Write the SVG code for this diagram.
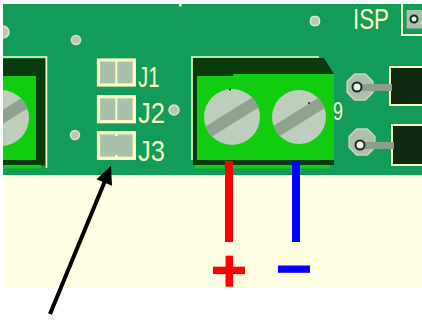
<svg xmlns="http://www.w3.org/2000/svg" width="422" height="323" viewBox="0 0 422 323">
<style>
.board{fill:#139b59}
.dark{fill:#0c3a0f}
.bright{fill:#11cc11}
.screw{fill:#bdcebc}
.slot{fill:#8fa28e}
.cream{fill:none;stroke:#fbfbc4}
.pad{fill:#a9c0ab}
.lbl{font-family:"Liberation Sans",Arial,sans-serif;fill:#fbfbc4}
.via{fill:#b6c7b5;stroke:#dfe6cc;stroke-width:1.5}
.oct{fill:#aebfad;stroke:#c9d3bd;stroke-width:1.5}
.hole{fill:#eef0ea;stroke:#1a2a1a;stroke-width:2}
.wire{fill:#8e9e8d}
.comp{fill:#0e2a10;stroke:#fbfbc4;stroke-width:2}
</style>
<defs>
<clipPath id="brd"><rect x="3" y="4" width="419" height="171"/></clipPath>
<clipPath id="s0"><circle cx="1" cy="118" r="28"/></clipPath>
<clipPath id="s1"><circle cx="232" cy="117" r="28"/></clipPath>
<clipPath id="s2"><circle cx="299" cy="117" r="27"/></clipPath>
</defs>
<rect width="422" height="323" fill="#ffffff"/>
<rect x="3" y="175" width="419" height="112" fill="#ffffe4"/>
<g id="board" clip-path="url(#brd)">
<rect class="board" x="3" y="4" width="419" height="171"/>
<rect x="179" y="3" width="2.5" height="3.5" fill="#fbfbc4"/>
<circle class="via" cx="3" cy="32" r="6"/>
<circle class="via" cx="76" cy="40" r="4.5"/>
<circle class="via" cx="75" cy="135" r="4.5"/>
<circle class="via" cx="174" cy="110" r="5"/>
<rect class="via" x="310.5" y="16.5" width="9" height="9" rx="3.5"/>
<g id="terminal-left">
<polyline class="cream" stroke-width="1.5" points="3,57 46.5,57 46.5,168"/>
<rect class="dark" x="3" y="58.5" width="42" height="107"/>
<rect class="bright" x="3" y="76" width="33" height="84"/>
<rect class="bright" x="3" y="165" width="38" height="3.5"/>
<circle class="screw" cx="1" cy="118" r="28"/>
<g clip-path="url(#s0)"><rect class="slot" x="-30" y="112" width="62" height="12" transform="rotate(-32 1 118)"/></g>
</g>
<g id="terminal-right">
<polyline class="cream" stroke-width="1.5" points="192,160 192,57 319,57"/>
<path class="dark" d="M193,58 H324 L334,74 V165 H193 Z"/>
<path class="bright" d="M197,76 H233 V74 H334 V160 H197 Z"/>
<rect class="bright" x="195" y="165" width="135" height="3.5"/>
<circle class="screw" cx="232" cy="117" r="28"/>
<g clip-path="url(#s1)"><rect class="slot" x="200" y="111" width="64" height="12" transform="rotate(-32 232 117)"/></g>
<circle class="screw" cx="299" cy="117" r="27"/>
<g clip-path="url(#s2)"><rect class="slot" x="267" y="111" width="64" height="12" transform="rotate(-32 299 117)"/></g>
<circle cx="230" cy="89.5" r="1" fill="#1a2a1a"/>
<circle cx="309" cy="103" r="1" fill="#1a2a1a"/>
<text class="lbl" x="333" y="120" font-size="25" textLength="10" lengthAdjust="spacingAndGlyphs">9</text>
</g>
<g id="J1">
<rect class="pad" x="98.5" y="60" width="35.8" height="25"/>
<rect class="cream" stroke-width="3.3" x="98.5" y="60" width="35.8" height="25"/>
<line class="cream" stroke-width="2" x1="116.3" y1="60" x2="116.3" y2="85"/>
<text class="lbl" x="138" y="87" font-size="30" textLength="21.5" lengthAdjust="spacingAndGlyphs">J1</text>
</g>
<g id="J2">
<rect class="pad" x="98.5" y="96.7" width="35.8" height="25"/>
<rect class="cream" stroke-width="3.3" x="98.5" y="96.7" width="35.8" height="25"/>
<line class="cream" stroke-width="2" x1="116.3" y1="96.7" x2="116.3" y2="121.7"/>
<text class="lbl" x="138" y="123" font-size="30" textLength="27" lengthAdjust="spacingAndGlyphs">J2</text>
</g>
<g id="J3">
<rect class="pad" x="98.5" y="132.7" width="35.8" height="25.6"/>
<rect class="cream" stroke-width="3.3" x="98.5" y="132.7" width="35.8" height="25.6"/>
<rect x="115" y="133" width="2.6" height="3" fill="#fbfbc4"/>
<rect x="115" y="155" width="2.6" height="3" fill="#fbfbc4"/>
<text class="lbl" x="138" y="161" font-size="30" textLength="27" lengthAdjust="spacingAndGlyphs">J3</text>
</g>
<g id="ISP">
<text class="lbl" x="353" y="28.5" font-size="29.5" textLength="36" lengthAdjust="spacingAndGlyphs">ISP</text>
<rect class="cream" stroke-width="2" x="402" y="-5" width="30" height="40"/>
<rect class="pad" x="406.5" y="10" width="20" height="18.5"/>
<circle class="hole" cx="414" cy="19" r="3.5"/>
</g>
<g id="comp1">
<rect class="comp" x="390" y="67" width="40" height="38"/>
<polygon class="oct" points="372.9,92.4 365.4,99.9 354.6,99.9 347.1,92.4 347.1,81.6 354.6,74.1 365.4,74.1 372.9,81.6"/>
<rect class="wire" x="358" y="84" width="34" height="7"/>
<circle class="hole" cx="357" cy="87" r="4.5"/>
</g>
<g id="comp2">
<rect class="comp" x="392" y="125" width="40" height="40"/>
<polygon class="oct" points="374.9,147.4 367.4,154.9 356.6,154.9 349.1,147.4 349.1,136.6 356.6,129.1 367.4,129.1 374.9,136.6"/>
<rect class="wire" x="361" y="142" width="33" height="7"/>
<circle class="hole" cx="360" cy="145" r="4.5"/>
</g>
</g>
<g id="plus">
<rect x="225" y="161" width="8" height="81" fill="#ff0000"/>
<rect x="225.5" y="255.7" width="7.6" height="31" fill="#ff0000"/>
<rect x="213" y="266.7" width="32" height="7.4" fill="#ff0000"/>
</g>
<g id="minus">
<rect x="292" y="161" width="8" height="81" fill="#0000ff"/>
<rect x="278" y="265.5" width="32" height="7.3" fill="#0000ff"/>
</g>
<g id="connectors">
<line x1="50" y1="314" x2="104.5" y2="182" stroke="#000" stroke-width="4"/>
<polygon points="111,166 112,185.7 96.5,179.3" fill="#000"/>
</g>
</svg>
